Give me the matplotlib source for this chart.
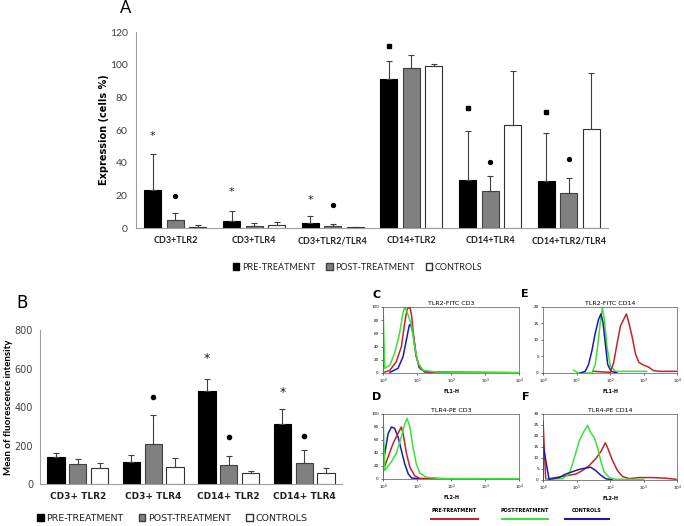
import numpy as np
import matplotlib
matplotlib.use("Agg")
import matplotlib.pyplot as plt
from matplotlib.patches import Patch
from matplotlib.lines import Line2D

plt.rcParams['font.family'] = ['DejaVu Sans']

# ---- panel A: expression (cells %) ----
cats_a = ['CD3+TLR2', 'CD3+TLR4', 'CD3+TLR2/TLR4', 'CD14+TLR2', 'CD14+TLR4', 'CD14+TLR2/TLR4']
pre_a = [23.5, 4.5, 3.0, 91.2, 29.2, 28.6]
pre_a_sd = [21.8, 6.1, 4.1, 10.8, 29.9, 29.3]
post_a = [4.9, 1.0, 1.0, 97.7, 22.7, 21.7]
post_a_sd = [4.0, 1.8, 1.4, 8.1, 9.4, 8.8]
ctrl_a = [0.8, 1.6, 0.6, 99.1, 62.9, 60.9]
ctrl_a_sd = [0.8, 2.3, 0.2, 1.4, 33.5, 34.1]
star_a = [56.2, 21.9, 17.3, np.nan, np.nan, np.nan]
square_a = [np.nan, np.nan, np.nan, 111.3, 73.3, 71.1]
dot_a = [19.7, np.nan, 13.8, np.nan, 40.2, 42.2]

# ---- panel B: mean of fluorescence intensity ----
cats_b = ['CD3+ TLR2', 'CD3+ TLR4', 'CD14+ TLR2', 'CD14+ TLR4']
pre_b = [142, 113, 485, 312]
pre_b_sd = [17, 36, 62, 79]
post_b = [104, 208, 97, 111]
post_b_sd = [24, 152, 48, 64]
ctrl_b = [85, 88, 55, 59]
ctrl_b_sd = [22, 47, 13, 24]
star_b = [np.nan, np.nan, 653, 474]
dot_b = [np.nan, 454, 242, 251]

# ---- histograms (x in log decades, y = counts) ----
c_blue_x = [0.2, 0.44, 0.59, 0.69, 0.77, 0.81, 0.88, 0.96, 1.06, 1.23, 4.0]
c_blue_y = [1, 7, 25, 51, 72, 74, 61, 30, 9, 1.5, 0.3]
c_red_x = [0.05, 0.2, 0.39, 0.54, 0.64, 0.71, 0.79, 0.84, 0.9, 0.98, 1.08, 1.28, 2.06, 4.0]
c_red_y = [1.5, 4, 17, 40, 77, 97, 100, 87, 56, 25, 7, 1.5, 0.5, 0.5]
c_green_x = [0, 0, 0.05, 0.2, 0.34, 0.49, 0.59, 0.64, 0.71, 0.84, 0.93, 1.03, 1.18, 1.57, 2.56, 4.0]
c_green_y = [0, 100, 7, 12, 30, 61, 92, 100, 92, 72, 40, 15, 4, 1.5, 0.5, 0.5]

d_blue_x = [0, 0.05, 0.15, 0.25, 0.34, 0.44, 0.54, 0.64, 0.74, 0.84, 1.08]
d_blue_y = [23, 39, 70, 80, 78, 65, 44, 23, 8, 1.5, 0.3]
d_red_x = [0, 0.15, 0.29, 0.44, 0.54, 0.59, 0.69, 0.79, 0.93, 1.08, 1.57]
d_red_y = [13, 34, 54, 70, 80, 70, 39, 18, 5, 1, 0.3]
d_green_x = [0, 0, 0.05, 0.2, 0.39, 0.54, 0.64, 0.71, 0.79, 0.88, 0.98, 1.08, 1.28, 1.77, 4.0]
d_green_y = [0, 100, 13, 23, 39, 65, 85, 93, 80, 49, 23, 9, 2.5, 0.8, 0.3]

e_blue_x = [1.11, 1.26, 1.36, 1.46, 1.56, 1.66, 1.73, 1.79, 1.86, 1.93, 2.03, 2.21]
e_blue_y = [0, 0.5, 2.6, 6.8, 12.1, 16.3, 17.9, 15.3, 8.9, 2.6, 0.5, 0]
e_red_x = [1.51, 2.01, 2.11, 2.21, 2.31, 2.41, 2.49, 2.56, 2.66, 2.76, 2.86, 3.0, 3.15, 3.3, 3.5, 3.7, 4.0]
e_red_y = [0.5, 0.2, 3.2, 8.9, 14.2, 16.3, 17.9, 15.3, 11, 5.8, 3.2, 2.4, 1.8, 0.7, 0.5, 0.5, 0.5]
e_green_x = [0.92, 1.06, 1.46, 1.56, 1.64, 1.71, 1.77, 1.83, 1.91, 2.01, 2.16, 2.51, 3.1]
e_green_y = [0.8, 0, 0, 2.6, 8.9, 15.3, 19.8, 16.3, 7.9, 2.1, 0.5, 0.5, 0.5]

f_blue_x = [0, 0, 0.18, 0.48, 0.68, 0.83, 0.98, 1.13, 1.28, 1.42, 1.57, 1.72, 1.87, 2.07]
f_blue_y = [0, 16, 0.3, 1.1, 2.7, 3.5, 4.3, 5, 5.4, 5.8, 4.3, 2.2, 0.6, 0]
f_red_x = [0, 0, 0.08, 0.38, 0.68, 0.98, 1.18, 1.38, 1.58, 1.73, 1.86, 1.93, 2.07, 2.22, 2.37, 2.57, 2.87, 3.27, 3.67, 3.97]
f_red_y = [0, 27, 0.3, 1.1, 1.9, 2.7, 4.3, 6.6, 9.8, 13, 16.9, 14.5, 9, 4.3, 1.6, 0.6, 1.1, 1.1, 0.8, 0.3]
f_green_x = [0.08, 0.58, 0.78, 0.93, 1.08, 1.23, 1.33, 1.42, 1.53, 1.63, 1.73, 1.83, 1.98, 2.18, 2.5, 3.0]
f_green_y = [0.3, 0.6, 2.7, 9.8, 17.7, 22.4, 24.8, 21.6, 19.3, 14.5, 8.2, 3.5, 1.1, 0.3, 0.3, 0.3]

RED = '#c0262c'
GREEN = '#3ee03a'
BLUE = '#1c1ca8'
TXT = '#404040'


def bar_panel(ax, cats, series, width, step, ymax, ystep, tick_fs, cat_fs, cat_font):
    x = np.arange(len(cats))
    styles = [('black', 'black'), ('#808080', '#404040'), ('white', '#303030')]
    for k, (vals, sd) in enumerate(series):
        pos = x + (k - 1) * step
        fc, ec = styles[k]
        ax.bar(pos, vals, width, color=fc, edgecolor=ec, linewidth=0.8, zorder=2)
        ax.errorbar(pos, vals, yerr=[np.zeros(len(vals)), sd], fmt='none',
                    ecolor='#404040', elinewidth=0.8, capsize=2.5, capthick=0.8, zorder=3)
    ax.set_xlim(-0.5, len(cats) - 0.5)
    ax.set_ylim(0, ymax)
    ax.set_yticks(np.arange(0, ymax + 1, ystep))
    ax.set_xticks(x)
    ax.set_xticklabels(cats, fontsize=cat_fs, fontweight='bold', color='#202020', family=cat_font)
    ax.tick_params(axis='both', length=0, pad=6)
    ax.tick_params(axis='y', labelsize=tick_fs, labelcolor=TXT)
    for s in ['top', 'right']:
        ax.spines[s].set_visible(False)
    for s in ['left', 'bottom']:
        ax.spines[s].set_color('#a0a0a0')
        ax.spines[s].set_linewidth(0.8)
    return x


def hist_panel(ax, curves, ymax, yticks, title, xlabel):
    for xs, ys, col in curves:
        ax.plot(10 ** np.array(xs), ys, color=col, lw=1.1)
    ax.set_xscale('log')
    ax.set_xlim(1, 1e4)
    ax.set_ylim(0, ymax)
    ax.set_yticks(yticks)
    ax.set_xticks([1, 10, 100, 1000, 10000])
    ax.set_xticklabels(['$10^0$', '$10^1$', '$10^2$', '$10^3$', '$10^4$'])
    ax.minorticks_off()
    ax.tick_params(labelsize=3, length=1.5, width=0.4, pad=1.5)
    for s in ax.spines.values():
        s.set_linewidth(0.5)
        s.set_color('#555555')
    ax.set_title(title, fontsize=4.5, pad=1.5)
    ax.set_xlabel(xlabel, fontsize=3.5, fontweight='bold', labelpad=2)


fig = plt.figure(figsize=(6.84, 5.26), dpi=100)

# panel A
ax_a = fig.add_axes([0.199, 0.5665, 0.690, 0.3726])
x_a = bar_panel(ax_a, cats_a, [(pre_a, pre_a_sd), (post_a, post_a_sd), (ctrl_a, ctrl_a_sd)],
                0.215, 0.286, 120, 20, 7.5, 6.5, 'Lato')
for t in ax_a.get_yticklabels():
    t.set_family('Lato')
ax_a.set_ylabel('Expression (cells %)', fontsize=7, fontweight='bold')
ax_a.yaxis.set_label_coords(-0.058, 0.5)
for i in range(len(cats_a)):
    if not np.isnan(star_a[i]):
        ax_a.text(x_a[i] - 0.286, star_a[i], '*', ha='center', va='center', fontsize=8, color='#202020')
ax_a.plot(x_a - 0.286, square_a, 's', ms=2.5, color='black', zorder=4)
ax_a.plot(x_a, dot_a, 'o', ms=2.8, color='black', zorder=4)
fig.text(0.183, 0.985, 'A', fontsize=12, ha='center', va='center', family='Lato')
handles = [Patch(facecolor='black', edgecolor='black'),
           Patch(facecolor='#808080', edgecolor='#404040'),
           Patch(facecolor='white', edgecolor='#303030')]
labels = ['PRE-TREATMENT', 'POST-TREATMENT', 'CONTROLS']
fig.legend(handles, labels, loc='center', bbox_to_anchor=(0.523, 0.492), ncol=3, frameon=False,
           handlelength=0.7, handleheight=0.7, handletextpad=0.3, columnspacing=1.2,
           labelcolor='#202020', prop={'family': 'Lato', 'size': 6.5})

# panel B
ax_b = fig.add_axes([0.0585, 0.0798, 0.4415, 0.2928])
x_b = bar_panel(ax_b, cats_b, [(pre_b, pre_b_sd), (post_b, post_b_sd), (ctrl_b, ctrl_b_sd)],
                0.23, 0.29, 800, 200, 7, 6.5, 'DejaVu Sans')
ax_b.tick_params(axis='y', pad=5)
ax_b.set_ylabel('Mean of fluorescence intensity', fontsize=7, fontweight='bold', family='Lato')
ax_b.yaxis.set_label_coords(-0.088, 0.5)
for i in range(len(cats_b)):
    if not np.isnan(star_b[i]):
        ax_b.text(x_b[i] - 0.29, star_b[i], '*', ha='center', va='center', fontsize=9, color='#202020')
ax_b.plot(x_b, dot_b, 'o', ms=3, color='black', zorder=4)
fig.text(0.032, 0.424, 'B', fontsize=12, ha='center', va='center')
fig.legend(handles, labels, loc='center', bbox_to_anchor=(0.252, 0.015), ncol=3, frameon=False,
           handlelength=0.7, handleheight=0.7, handletextpad=0.3, columnspacing=1.6,
           labelcolor='#202020', prop={'size': 6.8})

# histograms
ax_c = fig.add_axes([0.560, 0.2909, 0.1988, 0.1255])
hist_panel(ax_c, [(c_blue_x, c_blue_y, BLUE), (c_red_x, c_red_y, RED), (c_green_x, c_green_y, GREEN)],
           100, [0, 20, 40, 60, 80, 100], 'TLR2-FITC CD3', 'FL1-H')
ax_d = fig.add_axes([0.560, 0.0894, 0.1988, 0.1236])
hist_panel(ax_d, [(d_blue_x, d_blue_y, BLUE), (d_red_x, d_red_y, RED), (d_green_x, d_green_y, GREEN)],
           100, [0, 20, 40, 60, 80, 100], 'TLR4-PE CD3', 'FL2-H')
ax_e = fig.add_axes([0.7939, 0.2909, 0.1959, 0.1255])
hist_panel(ax_e, [(e_green_x, e_green_y, GREEN), (e_blue_x, e_blue_y, BLUE), (e_red_x, e_red_y, RED)],
           20, [0, 5, 10, 15, 20], 'TLR2-FITC CD14', 'FL1-H')
ax_f = fig.add_axes([0.7939, 0.0875, 0.1959, 0.1255])
hist_panel(ax_f, [(f_red_x, f_red_y, RED), (f_green_x, f_green_y, GREEN), (f_blue_x, f_blue_y, BLUE)],
           30, [0, 5, 10, 15, 20, 25, 30], 'TLR4-PE CD14', 'FL2-H')

for lab, xx, yy in [('C', 0.551, 0.439), ('D', 0.551, 0.245), ('E', 0.768, 0.441), ('F', 0.768, 0.245)]:
    fig.text(xx, yy, lab, fontsize=8, fontweight='bold', ha='center', va='center')

# histogram legend (label above coloured line)
for lab, col, x0, x1 in [('PRE-TREATMENT', RED, 0.630, 0.699),
                         ('POST-TREATMENT', GREEN, 0.734, 0.801),
                         ('CONTROLS', BLUE, 0.826, 0.890)]:
    fig.text((x0 + x1) / 2, 0.029, lab, fontsize=3.5, fontweight='bold', ha='center', va='center')
    fig.add_artist(Line2D([x0, x1], [0.013, 0.013], color=col, lw=1.5, transform=fig.transFigure))

fig.savefig('out.png', dpi=100)
